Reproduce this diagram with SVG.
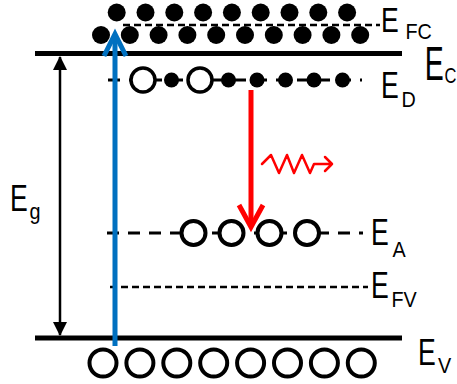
<svg xmlns="http://www.w3.org/2000/svg" width="457" height="384" viewBox="0 0 457 384">
<style>
.band{stroke:#000;stroke-width:5;fill:none}
.dash{stroke:#000;stroke-width:3;stroke-dasharray:12 9;fill:none}
.sdash{stroke:#000;stroke-width:2.5;stroke-dasharray:7 4;fill:none}
.e{fill:#000}
.h{fill:#fff;stroke:#000;stroke-width:3.5}
.hv{fill:#fff;stroke:#000;stroke-width:4}
.lbl{font-family:"Liberation Sans",Arial,sans-serif;fill:#000}
.big{font-size:37px}
.sub{font-size:22px}
.blue{stroke:#0070C0;stroke-width:5;fill:none}
.red{stroke:#FF0000;stroke-width:5;fill:none}
.photon{stroke:#FF0000;stroke-width:2.5;fill:none;stroke-linejoin:round;stroke-linecap:round}
.gap{stroke:#000;stroke-width:2.5;fill:none}
</style>
<defs>
<marker id="tri" viewBox="0 0 14 14" refX="13" refY="7" markerWidth="14" markerHeight="14" markerUnits="userSpaceOnUse" orient="auto-start-reverse">
<path d="M0,0 L14,7 L0,14 Z" fill="#000"/>
</marker>
</defs>

<g id="conduction-band">
<line class="band" x1="35" y1="53.5" x2="402" y2="53.5"/>
<text class="lbl" transform="translate(424.8,80) scale(0.58,1)" font-size="49">E</text>
<text class="lbl sub" transform="translate(444.5,83) scale(0.75,1)">C</text>
</g>

<g id="valence-band">
<line class="band" x1="35" y1="338" x2="402" y2="338"/>
<text class="lbl big" transform="translate(418,365) scale(0.72,1)">E</text>
<text class="lbl sub" transform="translate(438,373) scale(0.9,1)">V</text>
</g>

<g id="efc-level">
<line class="sdash" x1="123" y1="25" x2="380" y2="25"/>
<circle class="e" cx="116.7" cy="12.5" r="9"/>
<circle class="e" cx="145.5" cy="12.5" r="9"/>
<circle class="e" cx="174.3" cy="12.5" r="9"/>
<circle class="e" cx="203.1" cy="12.5" r="9"/>
<circle class="e" cx="231.9" cy="12.5" r="9"/>
<circle class="e" cx="260.7" cy="12.5" r="9"/>
<circle class="e" cx="289.5" cy="12.5" r="9"/>
<circle class="e" cx="318.3" cy="12.5" r="9"/>
<circle class="e" cx="347.1" cy="12.5" r="9"/>
<circle class="e" cx="101" cy="35" r="9"/>
<circle class="e" cx="129.8" cy="35" r="9"/>
<circle class="e" cx="158.6" cy="35" r="9"/>
<circle class="e" cx="187.4" cy="35" r="9"/>
<circle class="e" cx="216.2" cy="35" r="9"/>
<circle class="e" cx="245" cy="35" r="9"/>
<circle class="e" cx="273.8" cy="35" r="9"/>
<circle class="e" cx="302.6" cy="35" r="9"/>
<circle class="e" cx="331.4" cy="35" r="9"/>
<circle class="e" cx="360.2" cy="35" r="9"/>
<text class="lbl" font-size="35" transform="translate(381,31.5) scale(0.76,1)">E</text>
<text class="lbl sub" transform="translate(405.4,39) scale(0.9,1)">FC</text>
</g>

<g id="ed-level">
<line class="dash" x1="108" y1="80" x2="362" y2="80"/>
<circle class="h" cx="143" cy="80" r="12"/>
<circle class="e" cx="171.5" cy="80" r="7.5"/>
<circle class="h" cx="200" cy="80" r="12"/>
<circle class="e" cx="228.5" cy="80" r="7.5"/>
<circle class="e" cx="257" cy="80" r="7.5"/>
<circle class="e" cx="285.5" cy="80" r="7.5"/>
<circle class="e" cx="314" cy="80" r="7.5"/>
<circle class="e" cx="342.5" cy="80" r="7.5"/>
<text class="lbl big" transform="translate(381,98) scale(0.72,1)">E</text>
<text class="lbl sub" transform="translate(401.5,107) scale(0.9,1)">D</text>
</g>

<g id="ea-level">
<line class="dash" x1="107" y1="233" x2="363" y2="233"/>
<circle class="hv" cx="193.5" cy="233" r="12"/>
<circle class="hv" cx="231.5" cy="233" r="12"/>
<circle class="hv" cx="269.5" cy="233" r="12"/>
<circle class="hv" cx="307" cy="233" r="12"/>
<text class="lbl big" transform="translate(371,245) scale(0.72,1)">E</text>
<text class="lbl sub" transform="translate(392.5,257) scale(0.9,1)">A</text>
</g>

<g id="efv-level">
<line class="sdash" x1="110" y1="287" x2="368" y2="287"/>
<text class="lbl big" transform="translate(371,298) scale(0.72,1)">E</text>
<text class="lbl sub" transform="translate(391.5,307) scale(0.9,1)">FV</text>
</g>

<g id="holes-valence">
<circle class="hv" cx="103" cy="363" r="13.5"/>
<circle class="hv" cx="139.9" cy="363" r="13.5"/>
<circle class="hv" cx="176.8" cy="363" r="13.5"/>
<circle class="hv" cx="213.7" cy="363" r="13.5"/>
<circle class="hv" cx="250.6" cy="363" r="13.5"/>
<circle class="hv" cx="287.5" cy="363" r="13.5"/>
<circle class="hv" cx="324.4" cy="363" r="13.5"/>
<circle class="hv" cx="361.3" cy="363" r="13.5"/>
</g>

<g id="eg-label">
<text class="lbl big" transform="translate(10,211) scale(0.72,1)">E</text>
<text class="lbl sub" transform="translate(29.5,219) scale(0.9,1)">g</text>
</g>

<g id="connectors">
<line class="gap" x1="60" y1="57" x2="60" y2="335" marker-start="url(#tri)" marker-end="url(#tri)"/>
<line class="blue" x1="115" y1="346" x2="115" y2="36"/>
<polyline class="blue" points="104,56 115,34 126,56"/>
<line class="red" x1="251" y1="90" x2="251" y2="224"/>
<polyline class="red" points="239,205 251,227 263,205"/>
<path class="photon" d="M262,164 L271,155 L279,173 L287,155 L294,173 L302,155 L310,173 L314,164 L332,164 M325,157 L332,164 L325,171"/>
</g>
</svg>
